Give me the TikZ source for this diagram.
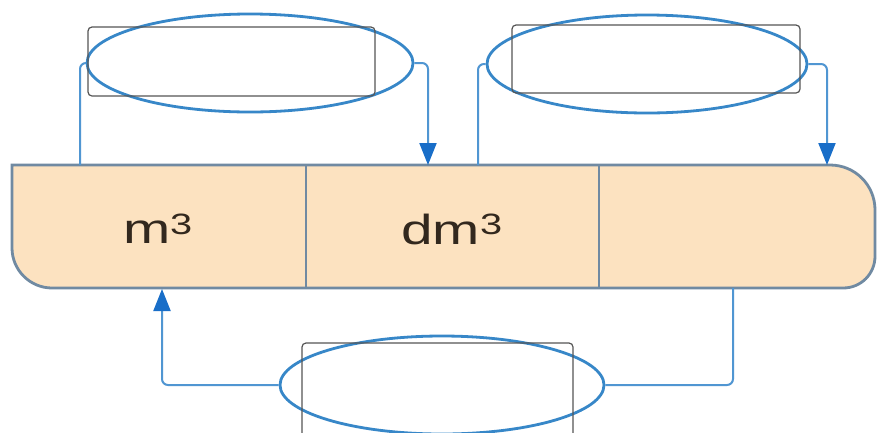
\documentclass[tikz,border=0pt]{standalone}
\usepackage{fontspec}
\setmainfont{Liberation Sans}
\usetikzlibrary{arrows.meta,shapes.geometric}
\definecolor{barfill}{RGB}{252,226,192}
\definecolor{barline}{RGB}{112,138,162}
\definecolor{connblue}{RGB}{80,150,210}
\definecolor{ellblue}{RGB}{55,135,200}
\definecolor{arrblue}{RGB}{25,110,200}
\definecolor{boxgray}{RGB}{85,85,85}
\definecolor{txt}{RGB}{50,40,30}
\tikzset{
  ell/.style={ellipse, draw=ellblue, line width=2.8pt, inner sep=0pt},
  labbox/.style={rectangle, rounded corners=4pt, draw=boxgray, line width=1.2pt, inner sep=0pt},
  conn/.style={draw=connblue, line width=2pt, rounded corners=6pt},
  arr/.style={-{Triangle[width=17pt,length=22pt,color=arrblue]}},
  cell/.style={inner sep=0pt, text=txt, font=\fontsize{42}{42}\selectfont},
  divider/.style={draw=barline, line width=2pt}
}
\begin{document}
\begin{tikzpicture}[x=1pt,y=-1pt]
\useasboundingbox (0,0) rectangle (877,432);
\clip (0,0) rectangle (877,432);
\fill[white] (0,0) rectangle (877,432);
% bar
\draw[fill=barfill, draw=barline, line width=2.8pt]
  (12,165) -- (830,165) .. controls (855,165) and (875,185) .. (875,210)
  -- (875,256) .. controls (875,274) and (861,288) .. (843,288)
  -- (52,288) .. controls (30,288) and (12,270) .. (12,248) -- cycle;
\draw[divider] (306,165) -- (306,288);
\draw[divider] (599,165) -- (599,288);
\node[cell] (c1) at (158,229) {\scalebox{1.35}[1]{m\textsuperscript{3}}};
\node[cell] (c2) at (452,229) {\scalebox{1.35}[1]{dm\textsuperscript{3}}};
% ellipses and boxes
\node[ell, minimum width=326pt, minimum height=98pt] (e1) at (250,63) {};
\node[labbox, minimum width=287pt, minimum height=69pt] (b1) at (231.5,61.5) {};
\node[ell, minimum width=320pt, minimum height=98pt] (e2) at (647,64) {};
\node[labbox, minimum width=288pt, minimum height=68pt] (b2) at (656,59) {};
\node[ell, minimum width=324pt, minimum height=98pt] (e3) at (442,385) {};
\node[labbox, minimum width=271pt, minimum height=95pt] (b3) at (437.5,390.5) {};
% connector end points on the bar
\coordinate (t1) at (80,165);
\coordinate (a1) at (428,165);
\coordinate (t2) at (478,165);
\coordinate (a2) at (827,165);
\coordinate (t3) at (733,288);
\coordinate (a3) at (162,289);
\draw[conn] (t1) |- (e1.west);
\draw[conn,arr] (e1.east) -| (a1);
\draw[conn] (t2) |- (e2.west);
\draw[conn,arr] (e2.east) -| (a2);
\draw[conn] (t3) |- (e3.east);
\draw[conn,arr] (e3.west) -| (a3);
\end{tikzpicture}
\end{document}
